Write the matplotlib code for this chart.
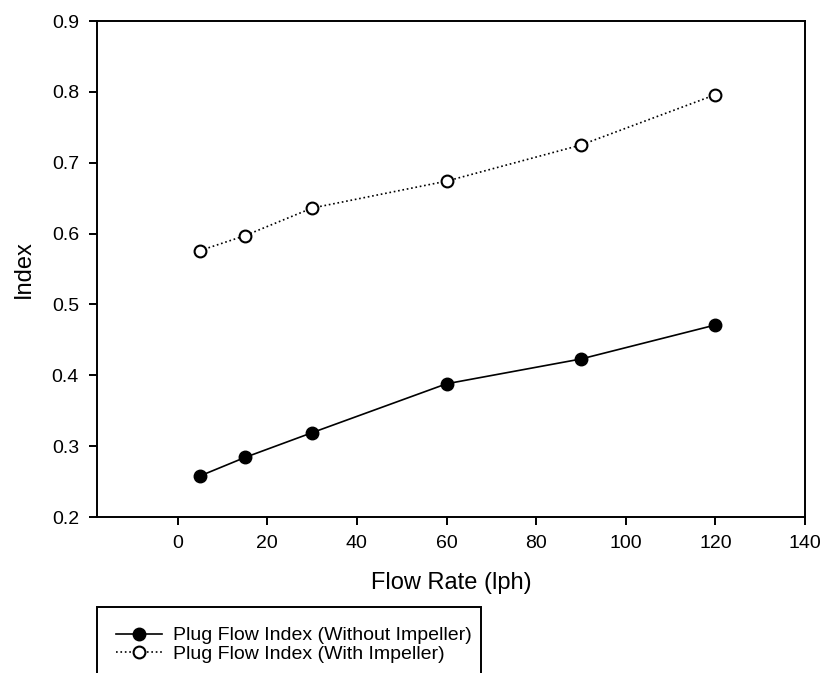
import numpy as np
import matplotlib
matplotlib.use("Agg")
import matplotlib.pyplot as plt
from matplotlib.patches import Rectangle

plt.rcParams["font.family"] = ["Liberation Sans", "DejaVu Sans"]

# flow rates (lph) and plug flow index values
flow = [5, 15, 30, 60, 90, 120]
without_imp = [0.258, 0.284, 0.319, 0.388, 0.423, 0.471]
with_imp = [0.576, 0.597, 0.636, 0.674, 0.725, 0.796]

fig = plt.figure(figsize=(8.23, 6.73), dpi=100)
ax = fig.add_axes([97/823, 1-517/673, (805-97)/823, (517-21)/673])

l1, = ax.plot(flow, without_imp, "-", color="black", lw=1.2,
              marker="o", ms=9, mfc="black", mec="black",
              label="Plug Flow Index (Without Impeller)")
l2, = ax.plot(flow, with_imp, ":", color="black", lw=1.2,
              marker="o", ms=8.5, mfc="white", mec="black", mew=1.5,
              label="Plug Flow Index (With Impeller)")

ax.set_xlim(-18, 140)
ax.set_ylim(0.2, 0.9)
ax.set_xticks(np.arange(0, 141, 20))
ax.set_yticks(np.arange(0.2, 0.91, 0.1))
ax.set_yticklabels(["%.1f" % v for v in np.arange(0.2, 0.91, 0.1)])
for s in ax.spines.values():
    s.set_linewidth(1.4)
ax.tick_params(direction="out", length=6, width=1.4, labelsize=14, pad=7)

ax.set_xlabel("Flow Rate (lph)", fontsize=17, labelpad=14)
ax.set_ylabel("Index", fontsize=17, labelpad=12)

# legend below the axes, frame drawn separately so it runs off the bottom
fig.legend(handles=[l1, l2], loc="upper left",
           bbox_to_anchor=(108/823, 1-619/673), frameon=False,
           fontsize=14, handlelength=2.4, handletextpad=0.55,
           labelspacing=0.05, borderaxespad=0)
fig.patches.append(Rectangle((97/823, -0.05), (481-97)/823, (673-607)/673+0.05,
                             transform=fig.transFigure, fill=False,
                             lw=1.4, ec="black"))

fig.savefig("out.png", dpi=100)
